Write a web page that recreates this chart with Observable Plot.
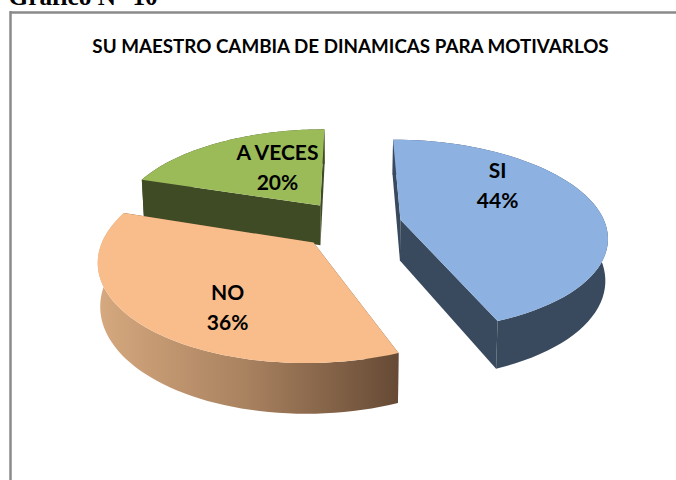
<!DOCTYPE html>
<html><head><meta charset="utf-8">
<script src="https://cdn.jsdelivr.net/npm/d3@7"></script>
<script src="https://cdn.jsdelivr.net/npm/@observablehq/plot@0.6"></script>
<style>html,body{margin:0;padding:0;background:#fff;overflow:hidden}svg{display:block}</style>
</head><body><div id="chart"></div>
<script>
const heading = "Gráfico N° 10";
const title = "SU MAESTRO CAMBIA DE DINAMICAS PARA MOTIVARLOS";
const categories = ["SI", "NO", "A VECES"];
const percents = [44, 36, 20];
const topColors = ["#8DB1E1", "#F8BD8B", "#9BBB59"];
const wallColors = ["#3A4A5E", "url(#noWall)", "#3F4B24"];
const explode = [0.27, 0.27, 0.27];
const nudgeX = [0, 0.03, 0.025];
const nudgeY = [-0.005, -0.01, 0];
const labelX = [0.737, -0.58, -0.337];
const labelY = [-0.205, 0.39, -0.293];
const paintOrder = [2, 0, 1];

const W = 676, H = 480, R = 205, cx = 346, cy = 225;
const tilt = 0.46, persp = 0.16, depth = 41 / R, startDeg = 0;
const rad = Math.PI / 180;

let nx = 0, ny = 0;
function proj(X, Y) { const s = 1 / (1 - persp * Y); return {x: X * s + nx, y: Y * tilt * s + ny, s}; }
function low(p) { return {x: p.x * 0.99, y: p.y + depth * p.s}; }

let acc = startDeg;
const slices = percents.map((v, i) => {
  const a0 = acc, a1 = acc + v * 3.6; acc = a1;
  const mid = (a0 + a1) / 2 * rad;
  const ox = Math.sin(mid) * explode[i], oy = -Math.cos(mid) * explode[i];
  nx = nudgeX[i]; ny = nudgeY[i];
  const rim = d3.range(0, 61).map(k => {
    const a = (a0 + (a1 - a0) * k / 60) * rad;
    return proj(ox + Math.sin(a), oy - Math.cos(a));
  });
  return {i, apex: proj(ox, oy), rim};
});

const marks = [
  () => {
    const defs = d3.create("svg:defs");
    const g = defs.append("linearGradient").attr("id", "noWall").attr("x1", 0).attr("x2", 1).attr("y1", 0).attr("y2", 0);
    g.append("stop").attr("offset", 0).attr("stop-color", "#D6A97F");
    g.append("stop").attr("offset", 0.5).attr("stop-color", "#A8815F");
    g.append("stop").attr("offset", 1).attr("stop-color", "#664A35");
    return defs.node();
  }
];
const face = (pts, fill) => Plot.line(pts, {x: "x", y: "y", fill, stroke: "none", curve: "linear"});

for (const i of paintOrder) {
  const {apex, rim} = slices[i];
  const first = rim[0], last = rim[rim.length - 1];
  marks.push(face([apex, first, low(first), low(apex)], i === 1 ? "#664A35" : wallColors[i]));
  marks.push(face([apex, last, low(last), low(apex)], i === 1 ? "#664A35" : wallColors[i]));
  marks.push(face([...rim, ...rim.slice().reverse().map(low)], wallColors[i]));
  marks.push(face([apex, ...rim], topColors[i]));
}

const border = "#8A8A8A";
marks.push(
  Plot.ruleY([(12 - cy) / R], {x1: (10 - cx) / R, x2: (W - cx) / R, stroke: border, strokeWidth: 2.5}),
  Plot.ruleX([(10 - cx) / R], {y1: (11 - cy) / R, y2: (H - cy) / R, stroke: border, strokeWidth: 2.5}),
  Plot.text([heading], {frameAnchor: "top-left", dx: 8, dy: -13, lineAnchor: "top", fontFamily: "Liberation Serif", fontWeight: "bold", fontSize: 25.3, fill: "#000"}),
  Plot.text([title], {frameAnchor: "top", dx: 12, dy: 39, lineAnchor: "top", fontFamily: "Lato", fontWeight: "bold", fontSize: 18.8, fill: "#000"}),
  Plot.text(categories.map((c, i) => `${c}\n${percents[i]}%`), {
    x: labelX, y: labelY, fontFamily: "Lato", fontWeight: "bold", fontSize: 21, lineHeight: 1.43, fill: "#000"
  })
);

const chart = Plot.plot({
  width: W, height: H, margin: 0, axis: null,
  x: {domain: [-cx / R, (W - cx) / R], range: [0, W]},
  y: {domain: [-cy / R, (H - cy) / R], range: [0, H]},
  style: {background: "#fff", overflow: "hidden"},
  marks
});
document.getElementById("chart").append(chart);
</script></body></html>
